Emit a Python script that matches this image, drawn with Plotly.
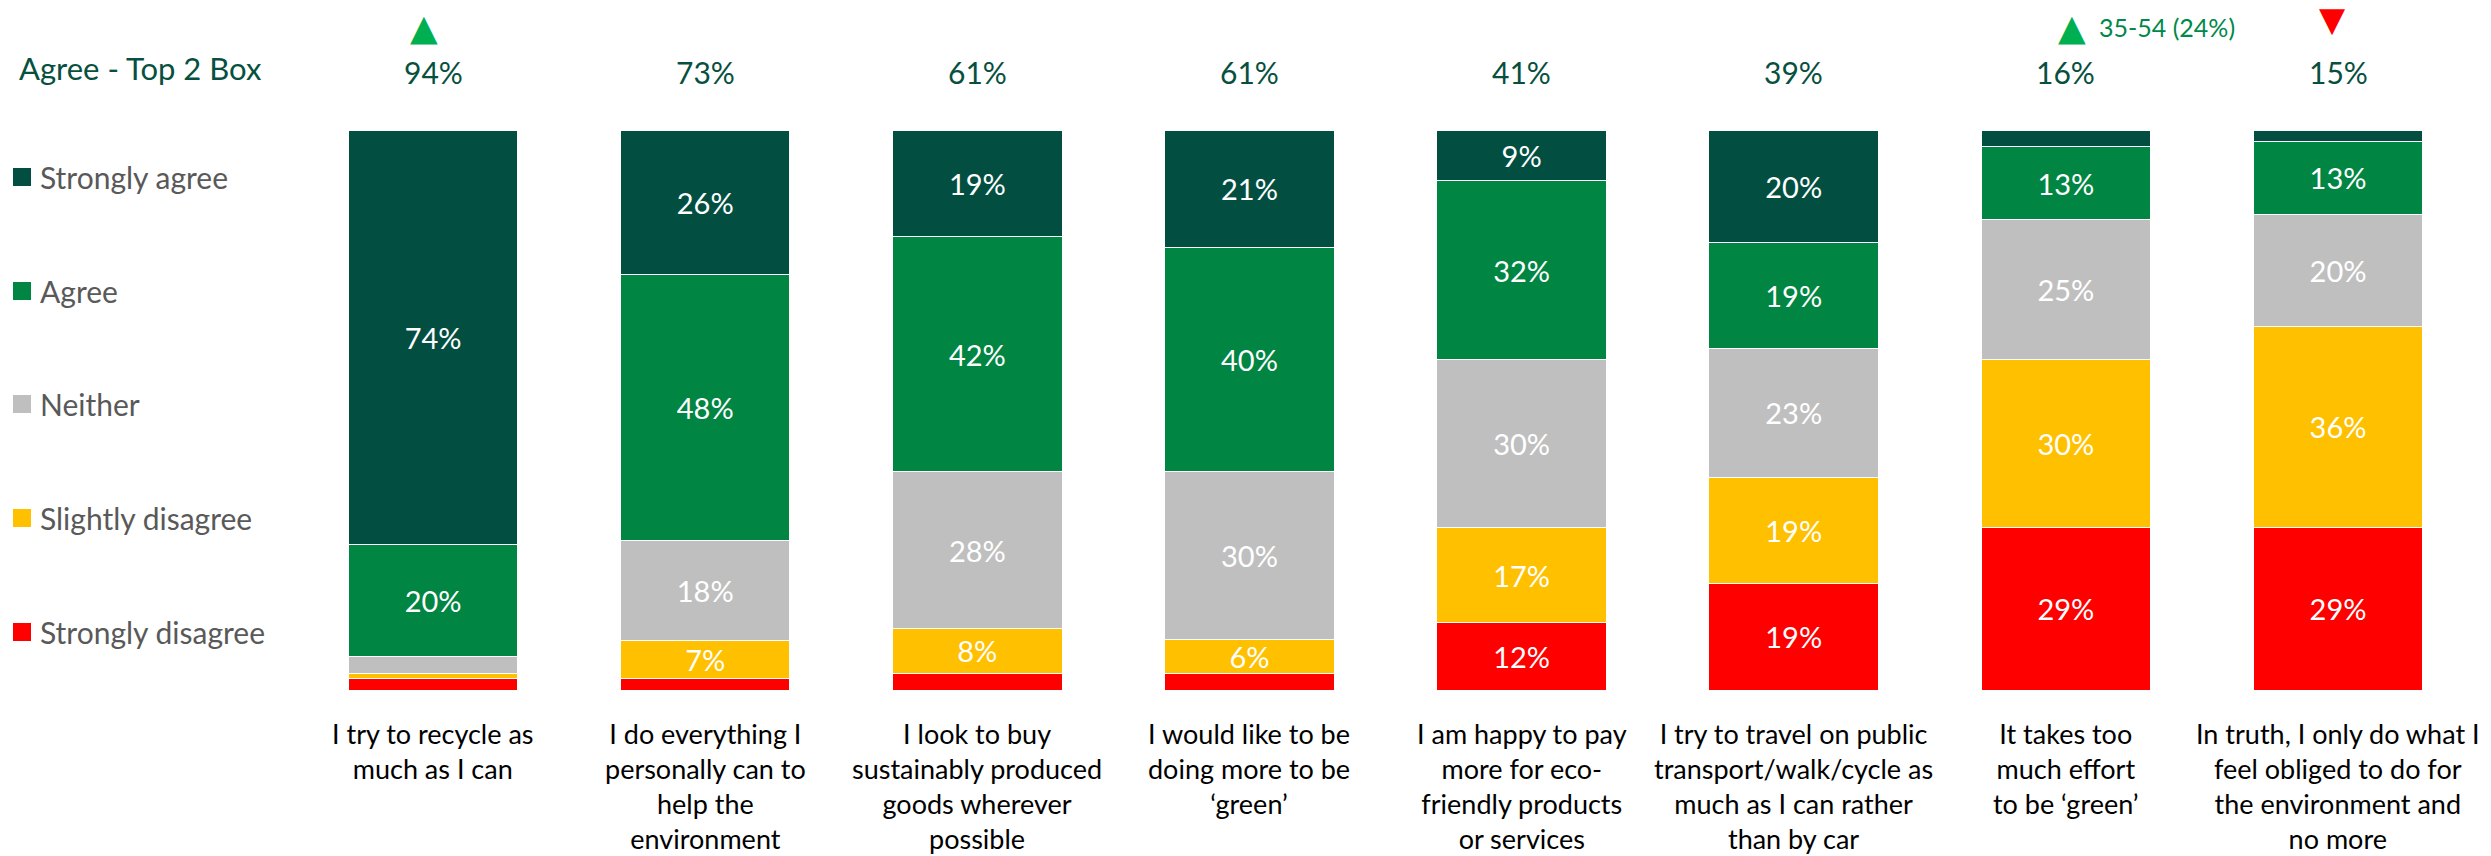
import plotly.graph_objects as go

# ---- data ----
categories = [
    "I try to recycle as<br>much as I can",
    "I do everything I<br>personally can to<br>help the<br>environment",
    "I look to buy<br>sustainably produced<br>goods wherever<br>possible",
    "I would like to be<br>doing more to be<br>‘green’",
    "I am happy to pay<br>more for eco-<br>friendly products<br>or services",
    "I try to travel on public<br>transport/walk/cycle as<br>much as I can rather<br>than by car",
    "It takes too<br>much effort<br>to be ‘green’",
    "In truth, I only do what I<br>feel obliged to do for<br>the environment and<br>no more",
]

strongly_disagree = [2, 2, 3, 3, 12, 19, 29, 29]
slightly_disagree = [1, 7, 8, 6, 17, 19, 30, 36]
neither = [3, 18, 28, 30, 30, 23, 25, 20]
agree = [20, 48, 42, 40, 32, 19, 13, 13]
strongly_agree = [74, 26, 19, 21, 9, 20, 3, 2]

top2_box = [94, 73, 61, 61, 41, 39, 16, 15]
top2_title = "Agree - Top 2 Box"

# significance flags: (category index, direction, note)
sig_flags = [(0, "up", ""), (6, "up", "35-54 (24%)"), (7, "down", "")]

series_names = ["Strongly disagree", "Slightly disagree", "Neither", "Agree", "Strongly agree"]
series_values = [strongly_disagree, slightly_disagree, neither, agree, strongly_agree]

# ---- styling ----
COLORS = {
    "Strongly agree": "#024F42",
    "Agree": "#008542",
    "Neither": "#BFBFBF",
    "Slightly disagree": "#FFC000",
    "Strongly disagree": "#FF0000",
}
FONT = "Lato, 'Open Sans', sans-serif"
DARK_GREEN_TEXT = "#07503F"
W, H = 2491, 856
ML, MR, MT, MB = 297, 9, 130, 166
PW, PH = W - ML - MR, H - MT - MB


def paper_x(px):
    return (px - ML) / PW


def paper_y(py):
    return (H - MB - py) / PH


fig = go.Figure()

for name, vals in zip(series_names, series_values):
    fig.add_trace(go.Bar(
        x=categories,
        y=vals,
        name=name,
        marker=dict(color=COLORS[name], line=dict(color="white", width=1)),
        text=[f"{v}%" if v >= 5 else "" for v in vals],
        textposition="inside",
        insidetextanchor="middle",
        constraintext="none",
        textangle=0,
        textfont=dict(family=FONT, size=29, color="white"),
        showlegend=False,
        hoverinfo="skip",
    ))

annotations = []

# category labels under each bar
for cat in categories:
    annotations.append(dict(
        x=cat, y=0, xref="x", yref="paper", yanchor="top", yshift=-25,
        text=cat, showarrow=False, align="center",
        font=dict(family=FONT, size=27, color="#000000"),
    ))

# top-2-box row
annotations.append(dict(
    x=paper_x(17), y=paper_y(68), xref="paper", yref="paper",
    xanchor="left", yanchor="middle", text=top2_title, showarrow=False,
    font=dict(family=FONT, size=31, color=DARK_GREEN_TEXT),
))
for cat, v in zip(categories, top2_box):
    annotations.append(dict(
        x=cat, y=paper_y(72), xref="x", yref="paper", yanchor="middle",
        text=f"{v}%", showarrow=False,
        font=dict(family=FONT, size=30, color=DARK_GREEN_TEXT),
    ))

# significance arrows
for idx, direction, note in sig_flags:
    up = direction == "up"
    shift = {0: -9, 6: 6, 7: -6}[idx]
    annotations.append(dict(
        x=categories[idx], y=paper_y(27 if up else 19), xref="x", yref="paper",
        xshift=shift, yanchor="middle",
        text="▲" if up else "▼", showarrow=False,
        font=dict(family="DejaVu Sans", size=34 if not up else 36,
                  color="#00B050" if up else "#FF0000"),
    ))
    if note:
        annotations.append(dict(
            x=categories[idx], y=paper_y(27), xref="x", yref="paper",
            xshift=31, xanchor="left", yanchor="middle",
            text=note, showarrow=False,
            font=dict(family=FONT, size=25, color="#00884A"),
        ))

# legend on the left
shapes = []
legend_y = [177, 291, 404, 518, 632]
for name, py in zip(reversed(series_names), legend_y):
    shapes.append(dict(
        type="rect", xref="paper", yref="paper",
        xsizemode="pixel", ysizemode="pixel",
        xanchor=paper_x(22), yanchor=paper_y(py),
        x0=-9, x1=9, y0=-9, y1=9,
        fillcolor=COLORS[name], line=dict(width=0),
    ))
    annotations.append(dict(
        x=paper_x(38), y=paper_y(py), xref="paper", yref="paper",
        xanchor="left", yanchor="middle", text=name, showarrow=False,
        font=dict(family=FONT, size=30, color="#595959"),
    ))

fig.update_layout(
    width=W, height=H,
    margin=dict(l=ML, r=MR, t=MT, b=MB),
    barmode="stack",
    barnorm="percent",
    bargap=0.377,
    plot_bgcolor="white",
    paper_bgcolor="white",
    annotations=annotations,
    shapes=shapes,
    showlegend=False,
    xaxis=dict(type="category", showticklabels=False, showgrid=False,
               zeroline=False, showline=False, ticks=""),
    yaxis=dict(range=[0, 100], visible=False, showgrid=False, zeroline=False),
)

fig.write_html("out.html")
